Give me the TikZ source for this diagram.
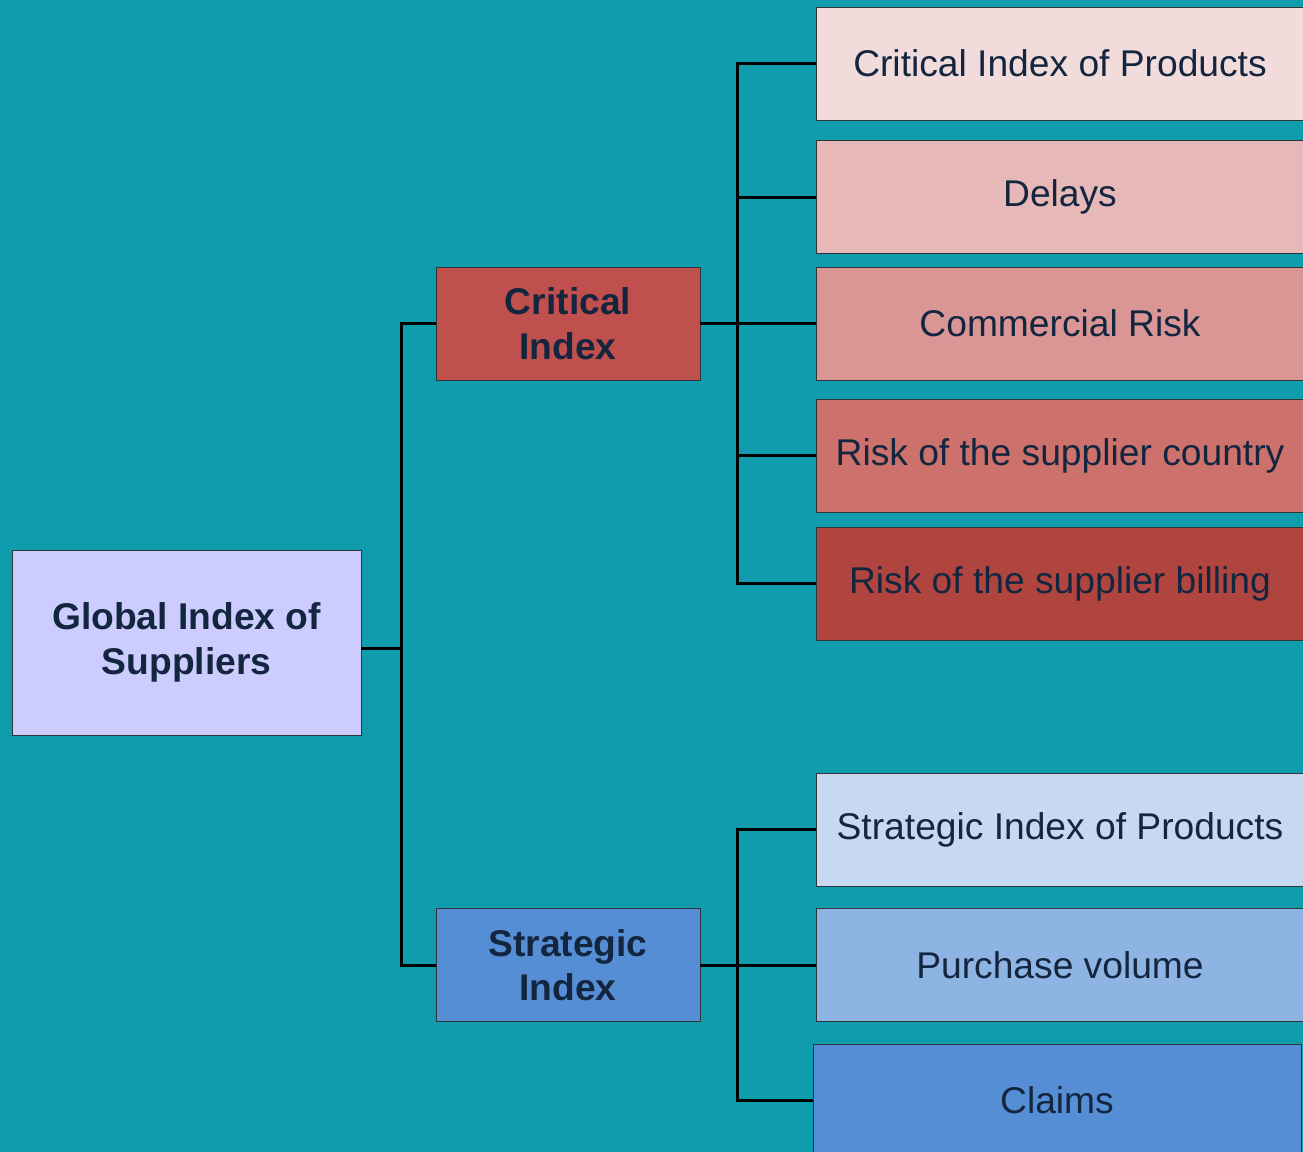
\documentclass[tikz,border=0pt]{standalone}
\usepackage{fontspec}
\setmainfont{Liberation Sans}
\definecolor{bgc}{HTML}{0F9CAC}
\definecolor{txt}{HTML}{14263F}
\definecolor{bord}{HTML}{2F3438}
\definecolor{cglob}{HTML}{CCCCFF}
\definecolor{ccrit}{HTML}{C0504D}
\definecolor{cstra}{HTML}{558ED5}
\definecolor{cra}{HTML}{F2DCDB}
\definecolor{crb}{HTML}{E6B9B8}
\definecolor{crc}{HTML}{D99694}
\definecolor{crd}{HTML}{CC716B}
\definecolor{cre}{HTML}{B0443F}
\definecolor{csa}{HTML}{C6D9F1}
\definecolor{csb}{HTML}{8EB4E3}
\definecolor{csc}{HTML}{558ED5}
\begin{document}
\begin{tikzpicture}[x=0.5pt,y=-0.5pt,
  box/.style={draw=bord,line width=0.5pt,rectangle,inner sep=0pt,outer sep=0pt,
    text=txt,align=center,font=\fontsize{18.6}{22.2}\selectfont},
  bbox/.style={box,font=\fontsize{18.6}{22.2}\selectfont\bfseries},
  leaf/.style={box,minimum width=244pt,minimum height=56.5pt},
  mid/.style={bbox,minimum width=132pt,minimum height=56.5pt},
  conn/.style={draw=black,line width=1.5pt}]
\useasboundingbox (0,0) rectangle (1303,1152);
\fill[bgc] (0,0) rectangle (1303,1152);
\clip (0,0) rectangle (1303,1152);
% nodes
\node[bbox,fill=cglob,minimum width=174.5pt,minimum height=92.5pt] (g) at (186.5,642.5) {Global Index of\\Suppliers};
\node[mid,fill=ccrit] (ci) at (568,323.5) {Critical\\Index};
\node[mid,fill=cstra] (si) at (568,965) {Strategic\\Index};
\node[leaf,fill=cra] (r1) at (1060,63.5) {Critical Index of Products};
\node[leaf,fill=crb] (r2) at (1060,197) {Delays};
\node[leaf,fill=crc] (r3) at (1060,323.5) {Commercial Risk};
\node[leaf,fill=crd] (r4) at (1060,455.5) {Risk of the supplier country};
\node[leaf,fill=cre] (r5) at (1060,583.5) {Risk of the supplier billing};
\node[leaf,fill=csa] (s1) at (1060,829.5) {Strategic Index of Products};
\node[leaf,fill=csb] (s2) at (1060,965) {Purchase volume};
\node[leaf,fill=csc] (s3) at (1057,1100.5) {Claims};
% junctions
\coordinate (ja) at (401,648);
\coordinate (jb) at (737,323.5);
\coordinate (jc) at (737,965);
% connectors
\draw[conn] (g.east |- ja) -- (ja);
\draw[conn] (ja) |- (ci.west);
\draw[conn] (ja) |- (si.west);
\draw[conn] (ci.east) -- (jb);
\draw[conn] (jb) |- (r1.west);
\draw[conn] (jb) |- (r2.west);
\draw[conn] (jb) -- (r3.west);
\draw[conn] (jb) |- (r4.west);
\draw[conn] (jb) |- (r5.west);
\draw[conn] (si.east) -- (jc);
\draw[conn] (jc) |- (s1.west);
\draw[conn] (jc) -- (s2.west);
\draw[conn] (jc) |- (s3.west);
\end{tikzpicture}
\end{document}
